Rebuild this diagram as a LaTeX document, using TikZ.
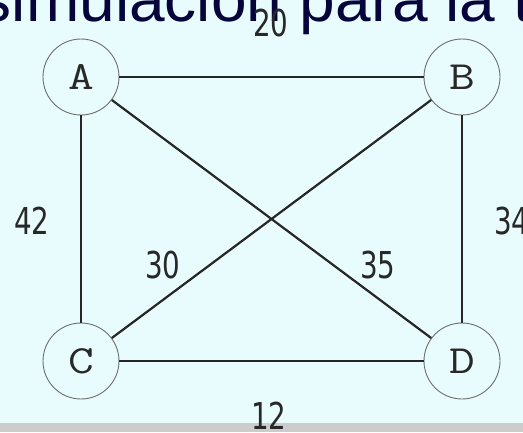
\documentclass[tikz,border=0pt]{standalone}
\usepackage{fontspec}
\newfontfamily\titlefont{Liberation Sans}
\newfontfamily\lblfont[FakeStretch=0.75]{DejaVu Sans}
\definecolor{bgc}{RGB}{232,252,254}
\definecolor{barc}{RGB}{204,204,204}
\definecolor{titlec}{RGB}{5,5,60}
\definecolor{edgec}{RGB}{38,38,38}
\definecolor{circc}{RGB}{110,110,110}
\definecolor{lblc}{RGB}{40,40,40}
\newcommand{\vlet}[1]{\scalebox{1.25}[1]{#1}}
\tikzset{
  vertex/.style={circle, draw=circc, line width=0.9pt, minimum size=76pt, inner sep=0pt,
    font=\ttfamily\fontsize{40}{40}\selectfont, text=lblc},
  edge/.style={draw=edgec, line width=2.2pt},
  weight/.style={font=\lblfont\fontsize{37}{37}\selectfont, text=lblc, inner sep=0pt}
}
\begin{document}
\begin{tikzpicture}[x=1pt,y=-1pt]
\useasboundingbox (0,0) rectangle (523,432);
\begin{scope}
\clip (0,0) rectangle (523,432);
\fill[bgc] (0,0) rectangle (523,432);
\fill[barc] (0,423) rectangle (523,432);
\node[anchor=base west, inner sep=0pt, text=titlec, font=\titlefont\fontsize{64}{64}\selectfont] (title) at (-20.3,21) {simulación para la t};
\node[vertex] (A) at (81,77) {\vlet{A}};
\node[vertex] (B) at (462,77) {\vlet{B}};
\node[vertex] (C) at (81,361) {\vlet{C}};
\node[vertex] (D) at (462,361) {\vlet{D}};
\draw[edge] (A) -- (B);
\draw[edge] (C) -- (D);
\draw[edge] (A) -- (C);
\draw[edge] (B) -- (D);
\draw[edge] (A) -- (D);
\draw[edge] (B) -- (C);
\node[weight] (w20) at (271,23) {20};
\node[weight] (w12) at (269,416) {12};
\node[weight] (w42) at (32,221) {42};
\node[weight] (w34) at (512,221) {34};
\node[weight] (w30) at (163,265) {30};
\node[weight] (w35) at (378,265) {35};
\end{scope}
\end{tikzpicture}
\end{document}
